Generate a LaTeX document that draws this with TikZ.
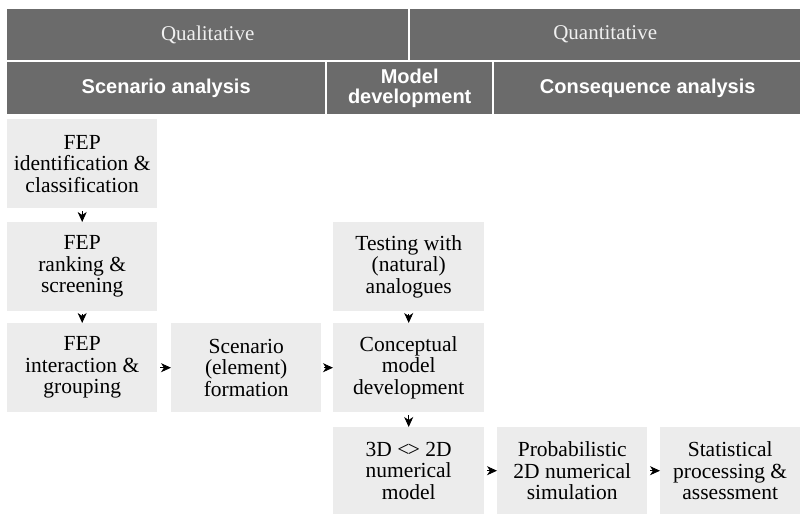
\documentclass[tikz,border=0pt]{standalone}
\usepackage{fontspec}
\setmainfont{Liberation Serif}
\newfontfamily\hsans{Liberation Sans}
\usetikzlibrary{arrows.meta}
\definecolor{hdr}{HTML}{6B6B6B}
\definecolor{boxg}{HTML}{ECECEC}
\begin{document}
\begin{tikzpicture}[x=1pt,y=-1pt,
  hcell/.style={fill=hdr, inner sep=0pt, anchor=north west, text=white, align=center},
  qual/.style={hcell, minimum height=51pt, font=\fontsize{21}{22}\selectfont, text=white!94!black},
  sect/.style={hcell, minimum height=52pt, font=\hsans\bfseries\fontsize{20}{20}\selectfont},
  stepbox/.style={fill=boxg, inner sep=0pt, anchor=north west, align=center,
    minimum width=150pt, minimum height=89pt, font=\fontsize{21.5}{21.5}\selectfont},
  flow/.style={-{Stealth[length=10pt,width=9pt,inset=3pt]}, line width=0.9pt, shorten <=3pt}]
\useasboundingbox (0,0) rectangle (800,514);
% header
\node[qual, minimum width=401pt] (ql) at (7,9) {Qualitative};
\node[qual, minimum width=390pt] (qn) at (410,9) {Quantitative};
\node[sect, minimum width=318pt] (sa) at (7,62) {Scenario analysis};
\node[sect, minimum width=165pt] (md) at (327,62) {Model\\development};
\node[sect, minimum width=307pt] (ca) at (494,62) {Consequence analysis};
% boxes
\node[stepbox] (b1) at (7,119) {FEP\\identification \&\\classification};
\node[stepbox] (b2) at (7,222) {FEP\\ranking \&\\screening};
\node[stepbox] (b3) at (7,323) {FEP\\interaction \&\\grouping};
\node[stepbox] (b4) at (171,323) {Scenario\\(element)\\formation};
\node[stepbox, minimum width=151pt] (b5) at (333,222) {Testing with\\(natural)\\analogues};
\node[stepbox, minimum width=151pt] (b6) at (333,323) {Conceptual\\model\\development};
\node[stepbox, minimum width=151pt, minimum height=87pt] (b7) at (333,427) {3D <\kern-1.5pt> 2D\\numerical\\model};
\node[stepbox, minimum height=87pt] (b8) at (497,427) {Probabilistic\\2D numerical\\simulation};
\node[stepbox, minimum width=140pt, minimum height=87pt] (b9) at (660,427) {Statistical\\processing \&\\assessment};
% arrows
\draw[flow] (b1) -- (b2);
\draw[flow] (b2) -- (b3);
\draw[flow] (b3) -- (b4);
\draw[flow] (b4) -- (b6);
\draw[flow] (b5) -- (b6);
\draw[flow] (b6) -- (b7);
\draw[flow] (b7) -- (b8);
\draw[flow] (b8) -- (b9);
\end{tikzpicture}
\end{document}
